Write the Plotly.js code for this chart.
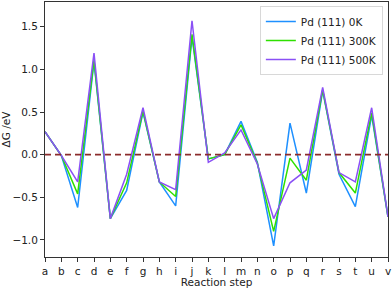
<!DOCTYPE html>
<html>
<head>
<meta charset="utf-8">
<script src="https://cdn.plot.ly/plotly-3.0.1.min.js"></script>
<style>html,body{margin:0;padding:0;background:#fff;}#chart{width:392px;height:288px;}</style>
</head>
<body>
<div id="chart"></div>
<script>
var steps = ["a","b","c","d","e","f","g","h","i","j","k","l","m","n","o","p","q","r","s","t","u","v"];
var seriesNames = ["Pd (111) 0K","Pd (111) 300K","Pd (111) 500K"];
var dG_0K   = [0.27,-0.01,-0.62,1.09,-0.75,-0.42,0.50,-0.32,-0.60,1.38,-0.05,0.00,0.39,-0.09,-1.07,0.37,-0.45,0.75,-0.23,-0.61,0.46,-0.73];
var dG_300K = [0.27,-0.01,-0.46,1.11,-0.75,-0.33,0.51,-0.32,-0.49,1.41,-0.05,0.00,0.35,-0.10,-0.90,-0.04,-0.30,0.76,-0.21,-0.45,0.49,-0.73];
var dG_500K = [0.27,-0.01,-0.32,1.19,-0.75,-0.23,0.55,-0.32,-0.41,1.57,-0.09,0.02,0.29,-0.11,-0.75,-0.33,-0.18,0.79,-0.21,-0.32,0.55,-0.73];
var colors = ["#1e90ff","#2ee000","#8a50f5"];

var all = [dG_0K, dG_300K, dG_500K];
var traces = all.map(function(v,i){
  return {x: steps, y: v, type:"scatter", mode:"lines", name: seriesNames[i],
          line:{color: colors[i], width:1.5}};
});
traces.push({x:[steps[0], steps[steps.length-1]], y:[0,0], type:"scatter", mode:"lines",
  showlegend:false, hoverinfo:"skip", line:{color:"#8b2c2c", width:1.6, dash:"6px,4px"}});

var layout = {
  width:392, height:288,
  margin:{l:45, r:4, t:2, b:31},
  paper_bgcolor:"#fff", plot_bgcolor:"#fff",
  font:{family:"DejaVu Sans", size:10.5, color:"#222"},
  showlegend:true,
  legend:{x:0.985, xanchor:"right", y:0.984, yanchor:"top", bgcolor:"rgba(255,255,255,0.8)",
          bordercolor:"#d8d8d8", borderwidth:1, font:{size:10.5}, tracegroupgap:0, itemwidth:30},
  xaxis:{type:"category", range:[0,21], showgrid:false, zeroline:false,
         showline:true, linecolor:"#333", linewidth:1, mirror:true,
         ticks:"outside", ticklen:4, tickcolor:"#333",
         title:{text:"Reaction step", standoff:3, font:{size:10.5}}},
  yaxis:{range:[-1.2,1.79], showgrid:false, zeroline:false,
         showline:true, linecolor:"#333", linewidth:1, mirror:true,
         ticks:"outside", ticklen:4, tickcolor:"#333",
         tickvals:[-1.0,-0.5,0,0.5,1.0,1.5], ticktext:["\u22121.0","\u22120.5","0.0","0.5","1.0","1.5"],
         title:{text:"\u0394G /eV", standoff:3, font:{size:10.5}}}
};
Plotly.newPlot("chart", traces, layout, {displayModeBar:false, staticPlot:true});
</script>
</body>
</html>
